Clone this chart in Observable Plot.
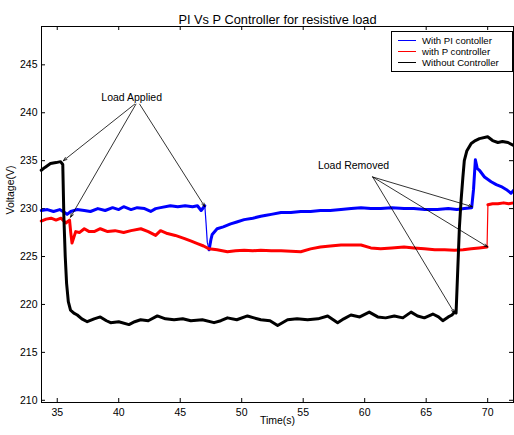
<!DOCTYPE html>
<html>
<head>
<meta charset="utf-8">
<script src="https://cdn.jsdelivr.net/npm/d3@7"></script>
<script src="https://cdn.jsdelivr.net/npm/@observablehq/plot@0.6"></script>
<style>
  body { margin: 0; background: #fff; font-family: "Liberation Sans", Arial, sans-serif; }
  #wrap { position: relative; width: 514px; height: 435px; }
  #legend { position: absolute; left: 391px; top: 31px; width: 120px; height: 39px; border: 1px solid #000; background: #fff; }
</style>
</head>
<body>
<div id="wrap"><div id="chart"></div><div id="legend"></div></div>
<script>
const title = "PI Vs P Controller for resistive load";
const xLabel = "Time(s)";
const yLabel = "Voltage(V)";
const xTicks = [35, 40, 45, 50, 55, 60, 65, 70];
const yTicks = [210, 215, 220, 225, 230, 235, 240, 245];
const seriesNames = ["With PI contoller", "with P controller", "Without Controller"];
const seriesColors = ["#0000ff", "#ff0000", "#000000"];

// With PI controller (blue)
const piT = [33.7,34.2,34.7,35.2,35.6,35.8,36.1,36.6,37.2,37.7,38.3,38.9,39.5,40.0,40.4,41.0,41.5,42.1,42.6,43.0,43.4,44.2,44.8,45.4,46.0,46.4,46.7,47.0,47.1,47.2,47.35,47.5,47.6,48.0,48.5,49.1,49.6,50.2,50.9,51.55,52.0,52.4,53.2,54.0,54.8,55.6,56.4,57.2,58.07,58.9,59.7,60.5,61.3,62.2,63.2,64.0,64.9,65.9,66.8,67.5,68.1,68.7,68.85,69.0,69.15,69.33,69.74,70.28,70.7,71.1,71.5,71.9,72.1];
const piV = [229.8,229.9,229.7,229.9,229.6,229.4,229.7,229.9,229.8,229.7,230.0,229.8,230.1,229.9,230.2,229.9,230.1,230.0,229.7,230.0,230.1,230.3,230.2,230.3,230.2,230.3,229.8,230.3,228.5,226.5,225.7,226.8,227.3,227.9,228.1,228.4,228.6,228.85,229.0,229.2,229.3,229.4,229.6,229.6,229.7,229.7,229.8,229.8,229.9,230.0,230.1,230.0,230.0,230.1,230.0,230.0,229.9,229.9,230.0,229.9,230.0,230.1,232.0,235.1,234.2,234.0,233.3,232.8,232.5,232.3,232.0,231.6,231.9];

// With P controller (red)
const pT = [33.7,34.1,34.5,34.9,35.3,35.7,36.0,36.1,36.2,36.35,36.5,36.8,37.2,37.6,38.0,38.5,39.1,39.7,40.4,41.0,41.8,42.4,43.0,43.4,43.96,44.6,45.3,45.9,46.4,46.9,47.35,48.0,48.84,49.5,50.2,50.9,51.55,52.4,53.2,54.0,54.8,55.6,56.4,57.2,58.07,58.9,59.7,60.5,61.3,62.2,63.2,64.0,64.85,65.7,66.5,67.3,68.0,68.66,69.3,69.95,70.02,70.4,70.83,71.3,71.7,72.1];
const pV = [228.7,228.9,229.0,228.8,229.0,228.5,228.8,227.5,226.4,227.0,227.6,227.5,227.9,227.6,227.6,227.9,227.6,227.7,227.5,227.7,227.9,227.6,227.2,227.7,227.4,227.2,226.9,226.6,226.35,226.1,225.8,225.7,225.5,225.6,225.65,225.6,225.65,225.6,225.6,225.55,225.5,225.8,226.0,226.1,226.2,226.2,226.2,225.9,225.8,225.9,226.0,225.9,225.8,225.7,225.7,225.65,225.7,225.8,225.9,226.0,230.4,230.5,230.5,230.6,230.5,230.6];

// Without controller (black)
const noT = [33.7,34.0,34.45,34.9,35.27,35.45,35.54,35.65,35.76,35.9,36.08,36.35,36.63,37.0,37.44,38.0,38.5,39.0,39.34,40.0,40.83,41.3,41.78,42.4,43.14,43.8,44.5,45.2,45.86,46.8,47.75,48.3,48.84,49.6,50.47,51.0,51.55,52.3,52.92,53.73,54.5,55.36,56.2,56.99,57.8,58.3,58.88,59.6,60.37,61.06,61.7,62.41,63.1,63.77,64.3,64.85,65.54,66.0,66.35,66.8,67.1,67.3,67.43,67.7,67.84,67.98,68.1,68.3,68.66,69.0,69.33,70.0,70.4,70.83,71.2,71.65,72.1];
const noV = [234.0,234.3,234.7,234.8,234.9,234.6,229.1,225.0,222.2,220.3,219.4,219.1,218.9,218.5,218.2,218.5,218.7,218.3,218.1,218.2,217.9,218.2,218.4,218.3,218.8,218.5,218.4,218.5,218.3,218.4,218.1,218.3,218.6,218.4,218.8,218.6,218.4,218.3,217.8,218.4,218.5,218.4,218.5,218.8,218.1,218.5,218.9,218.7,219.2,218.7,218.6,218.8,218.6,219.2,218.8,218.6,219.0,218.7,218.3,218.7,218.9,219.2,219.1,228.0,230.9,233.2,235.0,236.0,236.8,237.1,237.3,237.5,237.1,236.9,237.0,236.9,236.6];

// Annotations
const annLabels = ["Load Applied", "Load Removed"];
const annLabelT = [41.05, 59.09];
const annLabelV = [241.6, 234.5];
const arrowGroup = [0, 0, 0, 1, 1, 1];
const arrowFromT = [41.3, 41.4, 41.7, 60.65, 60.65, 60.65];
const arrowFromV = [240.9, 240.9, 240.9, 233.3, 233.3, 233.3];
const arrowToT = [35.5, 36.08, 47.0, 68.75, 70.0, 67.3];
const arrowToV = [235.0, 229.1, 230.2, 230.2, 226.0, 219.1];

const series = [
  {name: seriesNames[0], color: seriesColors[0], data: piT.map((t, i) => ({t, v: piV[i]})), gap: [47.0, 47.35]},
  {name: seriesNames[1], color: seriesColors[1], data: pT.map((t, i) => ({t, v: pV[i]})), gap: [69.95, 70.02]},
  {name: seriesNames[2], color: seriesColors[2], data: noT.map((t, i) => ({t, v: noV[i]})), gap: null}
];

const ann = annLabels.map((s, i) => ({s, t: annLabelT[i], v: annLabelV[i]}));
const arrows = arrowGroup.map((g, i) => ({x1: arrowFromT[i], y1: arrowFromV[i], x2: arrowToT[i], y2: arrowToV[i]}));

const W = 514, H = 435, mt = 26, mr = 1, mb = 33, ml = 41;
const fw = W - ml - mr, fh = H - mt - mb;

const marks = [];
for (const s of series) {
  marks.push(Plot.line(s.data, {x: "t", y: "v", stroke: s.color, strokeWidth: 1.2}));
  if (s.gap) {
    const [a, b] = s.gap;
    marks.push(Plot.line(s.data.filter(d => !(d.t > a && d.t < b)), {x: "t", y: "v", z: d => d.t <= a ? 0 : 1, stroke: s.color, strokeWidth: 3, strokeLinejoin: "round"}));
  } else {
    marks.push(Plot.line(s.data, {x: "t", y: "v", stroke: s.color, strokeWidth: 3, strokeLinejoin: "round"}));
  }
}

const chart = Plot.plot({
  width: W, height: H,
  marginTop: mt, marginRight: mr, marginBottom: mb, marginLeft: ml,
  style: {fontFamily: "Liberation Sans, Arial, sans-serif", fontSize: "10.5px", background: "#fff", color: "#000"},
  x: {domain: [33.72, 72.1], ticks: xTicks},
  y: {domain: [209.77, 249.0], ticks: yTicks},
  marks: [
    Plot.axisX({ticks: xTicks, tickSize: 0, tickPadding: 6, label: null, fontSize: 10.5}),
    Plot.axisY({ticks: yTicks, tickSize: 0, tickPadding: 4, label: null, fontSize: 10.5}),
    Plot.tickX(xTicks, {x: d => d, insetTop: fh - 4, stroke: "#000"}),
    Plot.tickX(xTicks, {x: d => d, insetBottom: fh - 4, stroke: "#000"}),
    Plot.tickY(yTicks, {y: d => d, insetRight: fw - 4, stroke: "#000"}),
    Plot.tickY(yTicks, {y: d => d, insetLeft: fw - 4, stroke: "#000"}),
    ...marks,
    Plot.arrow(arrows, {x1: "x1", y1: "y1", x2: "x2", y2: "y2", stroke: "#000", strokeWidth: 0.8, headLength: 7, headAngle: 40}),
    Plot.text(ann, {x: "t", y: "v", text: "s", fontSize: 10.5, fill: "#000"}),
    Plot.frame({stroke: "#000"}),
    Plot.text([title], {frameAnchor: "top", dy: -12, text: d => d, fontSize: 12.8, fill: "#000"}),
    Plot.text([xLabel], {frameAnchor: "bottom", dy: 21, text: d => d, fontSize: 10.5, fill: "#000"}),
    Plot.text([yLabel], {frameAnchor: "left", dx: -31, rotate: -90, text: d => d, fontSize: 10.5, fill: "#000"})
  ]
});
document.getElementById("chart").appendChild(chart);

// Legend
const leg = d3.select("#legend").append("svg").attr("width", 120).attr("height", 39)
  .style("display", "block").style("font-family", "Liberation Sans, Arial, sans-serif");
series.forEach((s, i) => {
  const y = 8.5 + i * 11;
  leg.append("line").attr("x1", 6).attr("x2", 24).attr("y1", y).attr("y2", y).attr("stroke", s.color).attr("stroke-width", 1);
  leg.append("text").attr("x", 30).attr("y", y).attr("dy", "0.35em").attr("font-size", 9.6).text(s.name);
});
</script>
</body>
</html>
